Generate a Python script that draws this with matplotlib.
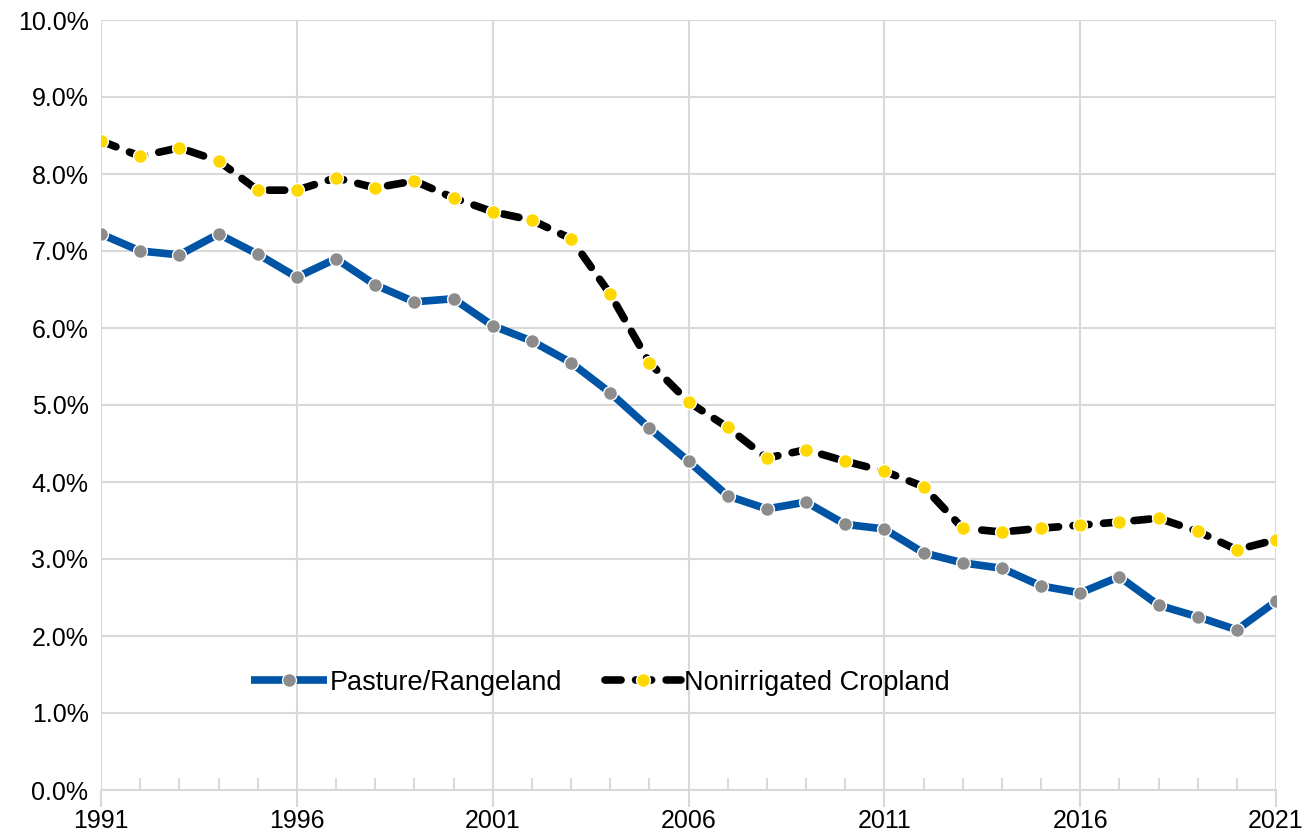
import numpy as np
import matplotlib
matplotlib.use("Agg")
import matplotlib.pyplot as plt
from matplotlib.ticker import FuncFormatter, MultipleLocator

years = list(range(1991, 2022))

# share of value lost, percent
pasture = [7.22, 7.00, 6.95, 7.22, 6.96, 6.66, 6.90, 6.56, 6.34, 6.38,
           6.03, 5.83, 5.55, 5.16, 4.70, 4.27, 3.82, 3.65, 3.74, 3.45,
           3.39, 3.08, 2.95, 2.88, 2.65, 2.56, 2.77, 2.40, 2.25, 2.08, 2.45]
cropland = [8.43, 8.23, 8.34, 8.17, 7.79, 7.79, 7.95, 7.82, 7.91, 7.69,
            7.51, 7.40, 7.16, 6.44, 5.55, 5.04, 4.71, 4.31, 4.42, 4.27,
            4.14, 3.94, 3.40, 3.35, 3.40, 3.44, 3.48, 3.53, 3.36, 3.12, 3.25]

plt.rcParams.update({
    "font.family": ["Liberation Sans", "DejaVu Sans"],
})

fig = plt.figure(figsize=(13.16, 8.4), dpi=100)
ax = fig.add_axes([101 / 1316, 50 / 840, 1175 / 1316, 770 / 840])

ax.plot(years, pasture, color="#0054A6", linewidth=5.5, solid_capstyle="butt",
        marker="o", markersize=10, markerfacecolor="#8C8C8C",
        markeredgecolor="white", markeredgewidth=1, label="Pasture/Rangeland",
        zorder=3)
ax.plot(years, cropland, color="black", linewidth=5.5, linestyle=(0, (2.1, 1.9)),
        dash_capstyle="round", marker="o", markersize=10,
        markerfacecolor="#FFD800", markeredgecolor="white", markeredgewidth=1,
        label="Nonirrigated Cropland", zorder=4)

ax.set_xlim(1991, 2021)
ax.set_ylim(0, 10)
ax.yaxis.set_major_locator(MultipleLocator(1))
ax.yaxis.set_major_formatter(FuncFormatter(lambda v, p: f"{v:.1f}%"))
ax.set_xticks(range(1991, 2022, 5))
ax.xaxis.set_minor_locator(MultipleLocator(1))

ax.grid(axis="both", which="major", color="#D9D9D9", linewidth=1.5, zorder=0)
for s in ["top", "right", "left"]:
    ax.spines[s].set_visible(False)
ax.spines["bottom"].set_color("#D9D9D9")
ax.spines["bottom"].set_linewidth(1.5)

ax.tick_params(axis="y", length=0, labelsize=18, pad=9)
ax.tick_params(axis="x", which="major", length=12, width=1.5, color="#D9D9D9",
               direction="out", labelsize=18, pad=2)
ax.tick_params(axis="x", which="minor", length=9, width=1.5, color="#D9D9D9",
               direction="in")

leg = ax.legend(loc="center", bbox_to_anchor=(0.425, 0.139), ncol=2, frameon=False,
                fontsize=19.5, handlelength=2.8, columnspacing=1.6, handletextpad=0.1)

fig.savefig("out.png", dpi=100)
